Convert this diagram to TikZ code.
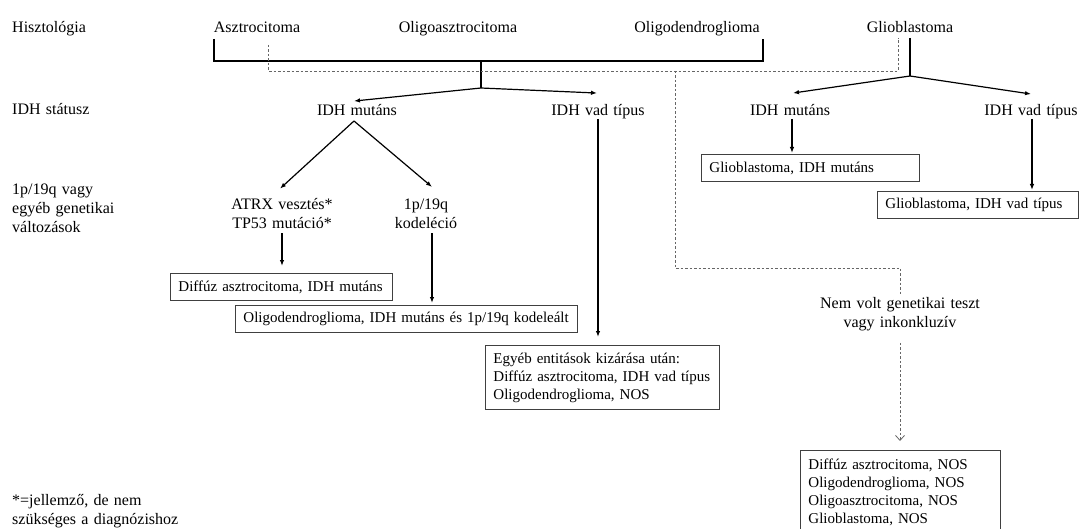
\documentclass[tikz,border=0pt]{standalone}
\usepackage{fontspec}
\setmainfont{Liberation Serif}
\usetikzlibrary{arrows.meta,calc}
\newcommand{\lblfont}{\fontsize{16}{19}\selectfont\spaceskip=0.33em plus 0.1em\relax}
\begin{document}
\begin{tikzpicture}[x=1pt,y=-1pt,
  lbl/.style={font=\lblfont, inner sep=0pt, text height=11pt, text depth=3.5pt},
  lblm/.style={font=\lblfont, inner sep=0pt, align=center},
  lbll/.style={font=\lblfont, inner sep=0pt, align=left, anchor=west},
  box/.style={draw=black!75, line width=0.9pt, font=\fontsize{15}{18}\selectfont, inner xsep=8pt, inner ysep=0pt, align=left, anchor=north west},
  ln/.style={line width=1.2pt},
  arr/.style={line width=1.2pt, -{Latex[length=6pt,width=4.5pt]}},
  dsh/.style={draw=black!60, line width=0.8pt, dash pattern=on 2.5pt off 2pt},
  darr/.style={draw=black!60, line width=0.8pt, dash pattern=on 2.5pt off 2pt, -{Straight Barb[length=5pt,width=9pt,line width=0.8pt]}},
]
\path[use as bounding box] (0,0) rectangle (1083,529);
\clip (0,0) rectangle (1083,529);

% row labels
\node[lbl, anchor=west] (hist) at (12,29) {Hisztológia};
\node[lbl, anchor=west] (idhst) at (12,111) {IDH státusz};
\node[lbll] (gen) at (12,208) {1p/19q vagy\\egyéb genetikai\\változások};
\node[lbll] (foot) at (12,511) {*=jellemző, de nem\\szükséges a diagnózishoz};

% histology
\node[lbl] (asz) at (257,29) {Asztrocitoma};
\node[lbl] (oliga) at (458,29) {Oligoasztrocitoma};
\node[lbl] (olid) at (697,29) {Oligodendroglioma};
\node[lbl] (glio) at (910,29) {Glioblastoma};

% IDH status
\node[lbl] (idhm1) at (357,111.5) {IDH mutáns};
\node[lbl] (idhv1) at (598,111.5) {IDH vad típus};
\node[lbl] (idhm2) at (790,111.5) {IDH mutáns};
\node[lbl] (idhv2) at (1031,111.5) {IDH vad típus};

% genetics
\node[lblm] (atrx) at (282,214) {ATRX vesztés*\\TP53 mutáció*};
\node[lblm] (kod) at (426,214) {1p/19q\\kodeléció};
\node[lblm] (nem) at (900,314) {Nem volt genetikai teszt\\vagy inkonkluzív};

% result boxes
\node[box, minimum width=222, minimum height=27, text width=206] (diff1) at (170,273) {Diffúz asztrocitoma, IDH mutáns};
\node[box, minimum width=342, minimum height=27, text width=326] (oligo1) at (235,305) {Oligodendroglioma, IDH mutáns és 1p/19q kodeleált};
\node[box, minimum width=234, minimum height=64, text width=218] (egyeb) at (485,345) {Egyéb entitások kizárása után:\\Diffúz asztrocitoma, IDH vad típus\\Oligodendroglioma, NOS};
\node[box, minimum width=218, minimum height=27, text width=202] (gm) at (701,154) {Glioblastoma, IDH mutáns};
\node[box, minimum width=201, minimum height=27, text width=185] (gv) at (877,191) {Glioblastoma, IDH vad típus};
\node[box, minimum width=200, minimum height=84, text width=184] (fin) at (800,450) {Diffúz asztrocitoma, NOS\\Oligodendroglioma, NOS\\Oligoasztrocitoma, NOS\\Glioblastoma, NOS};

% junction coordinates
\coordinate (brL) at (214,39);
\coordinate (brR) at (763,39);
\coordinate (j1) at (481,61);
\coordinate (s1) at (481,88);
\coordinate (g0) at (910,38);
\coordinate (g1) at (910,76);
\coordinate (dL) at (268,45);
\coordinate (dR) at (898,38);
\coordinate (dJ) at (675,71);
\coordinate (dB) at (675,268);
\coordinate (a1) at (354,121);

% histology bracket
\draw[ln] (brL) -- (brL |- j1) -- (brR |- j1) -- (brR);
\draw[ln] (j1) -- (s1);
\draw[arr] (s1) -- ($(idhm1.north)+(-3,-3)$);
\draw[arr] (s1) -- ($(idhv1.north)+(-1,-11)$);

% dashed path
\draw[dsh] (dL) -- (dL |- dJ) -- (dR |- dJ) -- (dR);
\draw[dsh] (dJ) -- (dB) -- (dB -| nem.north) -- ($(nem.north)+(0,-2)$);

% glioblastoma
\draw[ln] (g0) -- (g1);
\draw[arr] (g1) -- ($(idhm2.north)+(3,-11)$);
\draw[arr] (g1) -- ($(idhv2.north)+(0,-10)$);

% IDH mutant branch
\draw[arr] (a1) -- ($(atrx.north)+(-2,-10)$);
\draw[arr] (a1) -- ($(kod.north)+(6,-12)$);
\draw[arr] ($(atrx.south)+(0,4)$) -- ($(diff1.north -| atrx.south)+(0,-7)$);
\draw[arr] ($(kod.south)+(6,4)$) -- ($(oligo1.north -| kod.south)+(6,-2)$);

% IDH wild type / glio arrows
\draw[arr] (idhv1.south) -- ($(egyeb.north -| idhv1.south)+(0,-8)$);
\draw[arr] ($(idhm2.south)+(2,0)$) -- ($(gm.north -| idhm2.south)+(2,-1)$);
\draw[arr] ($(idhv2.south)+(1,0)$) -- ($(gv.north -| idhv2.south)+(1,-1)$);

% no test
\draw[darr] ($(nem.south)+(0,12)$) -- ($(fin.north -| nem.south)+(0,-9)$);
\end{tikzpicture}
\end{document}
